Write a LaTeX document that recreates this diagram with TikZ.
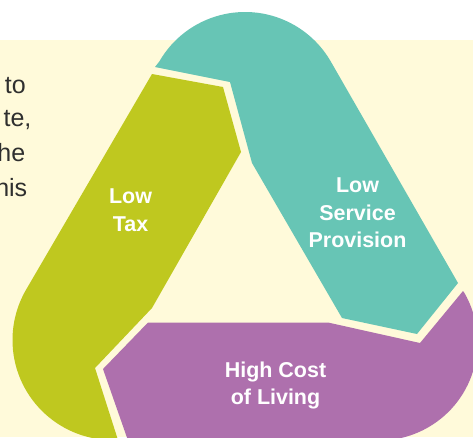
\documentclass[tikz,border=0pt]{standalone}
\usepackage{fontspec}
\setmainfont{Liberation Sans}
\definecolor{cream}{HTML}{FFFADA}
\definecolor{tealband}{HTML}{67C5B5}
\definecolor{oliveband}{HTML}{BFC81F}
\definecolor{plumband}{HTML}{AE70AD}
\definecolor{bodytext}{HTML}{2F2F2F}
\begin{document}
\begin{tikzpicture}[x=0.75pt,y=-0.75pt,
  bandlabel/.style={text=white,font=\fontsize{16.1}{19}\selectfont\bfseries,inner sep=0pt,anchor=base},
  bodyline/.style={text=bodytext,font=\fontsize{18.75}{22}\selectfont,inner sep=0pt,anchor=base east}]
\useasboundingbox (0,0) rectangle (473,437);
\clip (0,0) rectangle (473,437);
% page background: white strip above the cream panel
\fill[white] (0,0) rectangle (473,40);
\fill[cream] (0,40) rectangle (473,437);

% ends of the paragraph lines
\node[bodyline] (p1) at (26,93.3) {to};
\node[bodyline] (p2) at (31.7,126.7) {te,};
\node[bodyline] (p3) at (25.5,161.7) {he};
\node[bodyline] (p4) at (27.5,196.7) {his};

% top band: rounds the upper corner, ends in a point at the lower right
\fill[tealband] (155,67) -- (159.3,61.5)
  arc[start angle=210,end angle=330,radius=99]
  -- (458,283) -- (417,334) -- (342,318) -- (252,163) -- (230,82) -- cycle;

% left band: pointed top, rounds the lower left corner
\fill[oliveband] (152,74) -- (223,87) -- (241,152) -- (152,308) -- (95,368)
  -- (118,440) -- (112.5,440)
  arc[start angle=90,end angle=210,radius=100] -- cycle;

% bottom band: pointed left end, rounds the lower right corner
\fill[plumband] (103,369) -- (148,322.5) -- (328,322.5) -- (420,343) -- (463,291)
  -- (464.3,292.75)
  arc[start angle=-30,end angle=90,radius=98.5]
  -- (128,440.5) -- cycle;

% band labels
\node[bandlabel] (tax1) at (130.5,203.3) {Low};
\node[bandlabel] (tax2) at (130.5,231) {Tax};
\node[bandlabel] (svc1) at (357.5,192.3) {Low};
\node[bandlabel] (svc2) at (357.5,220) {Service};
\node[bandlabel] (svc3) at (357.5,247.7) {Provision};
\node[bandlabel] (cost1) at (275.5,377.3) {High Cost};
\node[bandlabel] (cost2) at (275.5,404) {of Living};
\end{tikzpicture}
\end{document}
